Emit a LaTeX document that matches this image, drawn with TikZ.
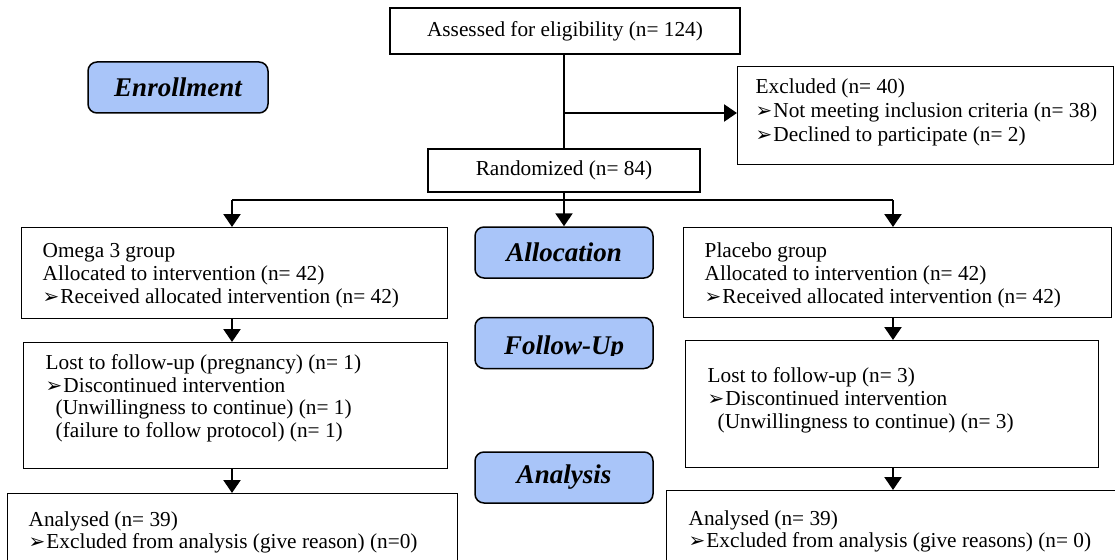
\documentclass[tikz,border=0pt]{standalone}
\usepackage{fontspec}
\setmainfont{Liberation Serif}
\newfontfamily\dejavu{DejaVu Sans}
\usetikzlibrary{arrows.meta}
\definecolor{lblue}{RGB}{169,197,249}
\newcommand{\tip}{{\dejavu\fontsize{20}{20}\selectfont ➢}\hspace{1pt}}
% width, height, left pad, first baseline offset, line spacing, content
\newcommand{\bxt}[6]{%
  \begin{minipage}[t][#2pt][t]{#1pt}\fontsize{21.3}{#5}\selectfont\raggedright\leftskip=#3pt\relax
  \vspace*{\dimexpr #4pt - 17pt\relax}\rule{0pt}{17pt}#6\end{minipage}}
\tikzset{
  box/.style={draw, line width=1.4pt, inner sep=0pt, anchor=north west},
  cbox/.style={draw, line width=1.4pt, inner sep=0pt, font=\fontsize{21.3}{24}\selectfont},
  stage/.style={draw, line width=1.5pt, fill=lblue, rounded corners=9pt, inner sep=0pt,
    minimum width=178pt, minimum height=51pt, font=\fontsize{27}{30}\selectfont\bfseries\itshape},
  conn/.style={line width=2.4pt},
  arr/.style={line width=2.4pt, -{Triangle[length=13pt,width=17pt]}},
  branch/.style={line width=1.4pt}
}
\begin{document}
\begin{tikzpicture}[x=1pt, y=-1pt]
\clip (0,0) rectangle (1115,559);
\fill[white] (0,0) rectangle (1115,559);

% enrollment column
\node[cbox, minimum width=350pt, minimum height=46pt] (assess) at (565,31) {Assessed for eligibility (n= 124)};
\node[box] (excl) at (737,66) {\bxt{376}{98}{18}{27}{24}{Excluded (n= 40)\\\tip Not meeting inclusion criteria (n= 38)\\\tip Declined to participate (n= 2)}};
\node[cbox, minimum width=272pt, minimum height=43pt] (rand) at (564,170.5) {Randomized (n= 84)};

% stage labels
\node[stage, minimum width=180pt] (enroll) at (178,87.5) {Enrollment};
\node[stage] (alloc) at (564,252.5) {Allocation};
\node[stage, path picture={
    \clip ([yshift=13.5pt]path picture bounding box.south west) rectangle (path picture bounding box.north east);
    \node[anchor=base, inner sep=0pt] (followtxt) at ([yshift=14pt]path picture bounding box.south) {Follow-Up};}]
  (follow) at (564,343) {};
\node[stage] (analysis) at (564,477.5) {Analysis};

% groups
\node[box] (omega) at (21,227) {\bxt{426}{91}{21}{30}{23}{Omega 3 group\\Allocated to intervention (n= 42)\\\tip Received allocated intervention (n= 42)}};
\node[box] (placebo) at (683,227) {\bxt{428}{90}{21}{30}{23}{Placebo group\\Allocated to intervention (n= 42)\\\tip Received allocated intervention (n= 42)}};
\node[box] (lostL) at (23,342) {\bxt{424}{126}{22}{27}{22.5}{Lost to follow-up (pregnancy) (n= 1)\\\tip Discontinued intervention\\\hspace*{10pt}(Unwillingness to continue) (n= 1)\\\hspace*{10pt}(failure to follow protocol) (n= 1)}};
\node[box] (lostR) at (685,340) {\bxt{413}{127}{22}{42}{23}{Lost to follow-up (n= 3)\\\tip Discontinued intervention\\\hspace*{10pt}(Unwillingness to continue) (n= 3)}};
\node[box] (anaL) at (7,493) {\bxt{450}{90}{21}{33}{22}{Analysed (n= 39)\\\tip Excluded from analysis (give reason) (n=0)}};
\node[box] (anaR) at (666,490) {\bxt{460}{90}{22}{35}{22}{Analysed (n= 39)\\\tip Excluded from analysis (give reasons) (n= 0)}};

% connector coordinates
\coordinate (jx) at (564,113);
\coordinate (br) at (564,200);
\coordinate (brL) at (232,200);
\coordinate (brR) at (893,200);

\draw[conn] (assess.south -| jx) -- (rand.north -| jx);
\draw[arr] (jx) -- (excl.west |- jx);
\draw[conn] (rand.south -| br) -- (br);
\draw[branch] (brL) -- (brR);
\draw[arr] (brL) -- (omega.north -| brL);
\draw[arr] (br) -- (alloc.north);
\draw[arr] (brR) -- (placebo.north -| brR);
\draw[arr] (omega.south -| brL) -- (lostL.north -| brL);
\draw[arr] (lostL.south -| brL) -- (anaL.north -| brL);
\draw[arr] (placebo.south -| brR) -- (lostR.north -| brR);
\draw[arr] (lostR.south -| brR) -- (anaR.north -| brR);
\end{tikzpicture}
\end{document}
